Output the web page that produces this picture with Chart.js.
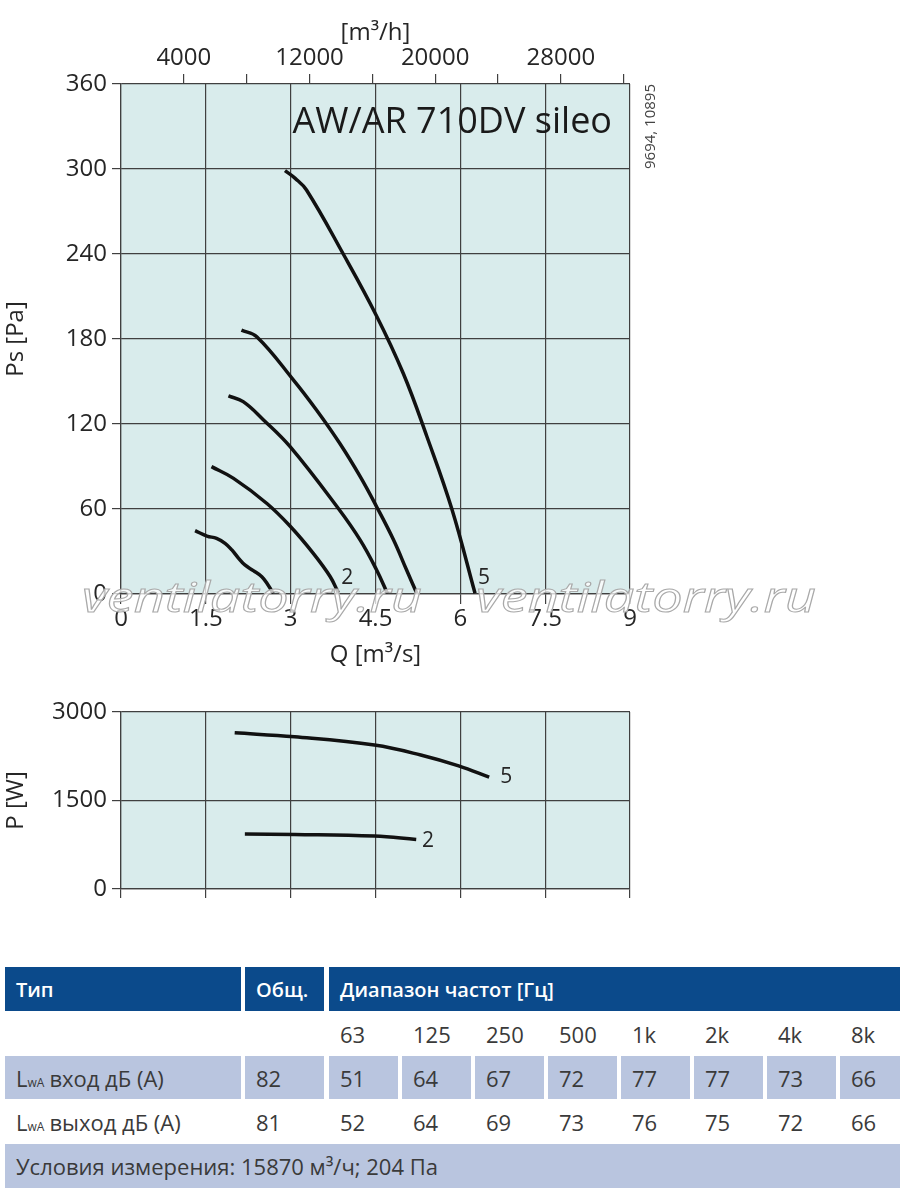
<!DOCTYPE html>
<html>
<head>
<meta charset="utf-8">
<script src="https://cdn.jsdelivr.net/npm/chart.js@4.4.1/dist/chart.umd.min.js"></script>
<style>
  body { margin: 0; width: 900px; height: 1194px; position: relative; background: #fff; overflow: hidden; font-family: "Open Sans", sans-serif; }
  #psChart { position: absolute; left: 0; top: 0; }
  #pChart { position: absolute; left: 0; top: 690px; }
  .cell { position: absolute; box-sizing: border-box; padding-left: 11px; display: flex; align-items: center; font-size: 22px; color: #3a3a3a; white-space: nowrap; }
  .head { background: #0b4a8b; color: #fff; font-weight: 600; font-size: 20px; }
  .shade { background: #b9c5df; }
  .sub { font-size: 12px; position: relative; top: 5px; margin-right: 5px; }
</style>
</head>
<body>
<canvas id="psChart" width="900" height="680"></canvas>
<canvas id="pChart" width="900" height="220"></canvas>
<div id="table"></div>
<script>
'use strict';

// pressure curves, Q [m3/s] vs Ps [Pa]
const curve1 = [[1.31, 44.7], [1.52, 40.9], [1.69, 39.3], [1.84, 35.8], [1.96, 31.1], [2.08, 25.2], [2.19, 20.5], [2.34, 16.5], [2.49, 12.2], [2.6, 6.4], [2.69, 0.5]]
const curve2 = [[1.6, 89.9], [1.99, 81.6], [2.58, 63.9], [3.0, 47.5], [3.4, 28.7], [3.7, 12.2], [3.84, 1]]
const curve3 = [[1.9, 139.8], [2.16, 135.8], [2.52, 122.9], [2.99, 104], [3.84, 60.5], [4.23, 38], [4.52, 16.9], [4.71, 0.5]]
const curve4 = [[2.13, 186.3], [2.4, 181.6], [3.05, 151], [3.46, 129.7], [3.87, 106.2], [4.23, 82.8], [4.52, 61.6], [4.82, 38.1], [5.05, 16.9], [5.23, 0.5]]
const curve5 = [[2.9, 298.8], [3.08, 293.4], [3.28, 285.2], [3.93, 240], [4.51, 197], [4.99, 155.8], [5.41, 111], [5.85, 60], [6.26, 0.5]]

// power curves, Q [m3/s] vs P [W]
const power2 = [[2.19, 932], [3.07, 925], [4.48, 897], [5.22, 841]]
const power5 = [[2.01, 2647], [3.07, 2579], [4.48, 2439], [5.3, 2271], [5.97, 2086], [6.51, 1895]]

const psLabels = [['2', 4.0, 11], ['5', 6.42, 11]]
const pLabels = [['5', 6.81, 1898], ['2', 5.43, 814]]

const topTicks = [4000, 8000, 12000, 16000, 20000, 24000, 28000, 32000]
const topLabels = [4000, 12000, 20000, 28000]

// sound table
const headTitles = ['Тип', 'Общ.', 'Диапазон частот [Гц]']
const bands = ['63', '125', '250', '500', '1k', '2k', '4k', '8k']
const inletTotal = 82
const inletBands = [51, 64, 67, 72, 77, 77, 73, 66]
const outletTotal = 81
const outletBands = [52, 64, 69, 73, 76, 75, 72, 66]
const conditions = 'Условия измерения: 15870 м³/ч; 204 Па'

const gridColor = '#404040'
const textColor = '#262626'
const tickFont = { family: '"Open Sans", sans-serif', size: 24 }

const toXY = (arr) => arr.map(p => ({ x: p[0], y: p[1] }))

const panelBg = {
    id: 'panelBg',
    beforeDraw(chart) {
        const { ctx, chartArea: a } = chart
        ctx.save()
        ctx.fillStyle = '#d9ecec'
        ctx.fillRect(a.left, a.top, a.right - a.left, a.bottom - a.top)
        ctx.restore()
    }
}

const curveLabels = {
    id: 'curveLabels',
    afterDatasetsDraw(chart, args, opts) {
        const { ctx, scales } = chart
        ctx.save()
        ctx.font = '21px "Open Sans", sans-serif'
        ctx.fillStyle = textColor
        ctx.textAlign = 'center'
        ctx.textBaseline = 'middle'
        for (const [txt, x, y] of opts.items || []) {
            ctx.fillText(txt, scales.x.getPixelForValue(x), scales.y.getPixelForValue(y))
        }
        ctx.restore()
    }
}

const extras = {
    id: 'extras',
    afterDraw(chart) {
        const { ctx, chartArea: a } = chart
        ctx.save()
        ctx.fillStyle = '#1a1a1a'
        ctx.font = '36px "Open Sans", sans-serif'
        ctx.textAlign = 'right'
        ctx.textBaseline = 'middle'
        ctx.fillText('AW/AR 710DV sileo', a.right - 18, 123)

        ctx.translate(651, a.top)
        ctx.rotate(-Math.PI / 2)
        ctx.font = '15px "Open Sans", sans-serif'
        ctx.fillStyle = '#444'
        ctx.textAlign = 'right'
        ctx.fillText('9694, 10895', 0, 0)
        ctx.restore()

        // watermark
        ctx.save()
        ctx.font = 'italic 42px "Open Sans", sans-serif'
        ctx.textBaseline = 'alphabetic'
        const txt = 'ventilatorry.ru'
        const w = ctx.measureText(txt).width
        for (const x0 of [82, 476]) {
            ctx.save()
            ctx.translate(x0, 612)
            ctx.scale(340 / w, 1)
            ctx.fillStyle = 'rgba(255,255,255,0.75)'
            ctx.fillText(txt, 0, 0)
            ctx.strokeStyle = '#a9a9a9'
            ctx.lineWidth = 1
            ctx.strokeText(txt, 0, 0)
            ctx.restore()
        }
        ctx.restore()
    }
}

const lineSet = (arr) => ({
    data: toXY(arr),
    borderColor: '#111',
    borderWidth: 3.5,
    pointRadius: 0,
    tension: 0.4,
    fill: false
})

new Chart(document.getElementById('psChart'), {
    type: 'line',
    data: { datasets: [curve1, curve2, curve3, curve4, curve5].map(lineSet) },
    options: {
        responsive: false,
        animation: false,
        layout: { padding: { left: 0, right: 270, top: 0, bottom: 0 } },
        plugins: { legend: { display: false }, tooltip: { enabled: false }, curveLabels: { items: psLabels } },
        scales: {
            x: {
                type: 'linear', position: 'bottom', min: 0, max: 9,
                ticks: { stepSize: 1.5, font: tickFont, color: textColor, padding: 1, maxRotation: 0 },
                grid: { color: gridColor, lineWidth: 1.2, tickLength: 10 },
                border: { color: gridColor, width: 1.2 },
                title: { display: true, text: 'Q [m³/s]', font: tickFont, color: textColor, padding: { bottom: 10 } },
                afterFit(s) { s.height = 86 }
            },
            xTop: {
                type: 'linear', position: 'top', min: 0, max: 32400,
                afterBuildTicks(s) { s.ticks = topTicks.map(v => ({ value: v })) },
                ticks: { font: tickFont, color: textColor, padding: 1, maxRotation: 0, autoSkip: false,
                    callback: (v) => topLabels.includes(v) ? String(v) : '' },
                grid: { color: gridColor, lineWidth: 1.2, tickLength: 10, drawOnChartArea: false },
                border: { display: false },
                title: { display: true, text: '[m³/h]', font: tickFont, color: textColor, padding: { top: 19 } },
                afterFit(s) { s.height = 84 }
            },
            y: {
                min: 0, max: 360,
                ticks: { stepSize: 60, font: tickFont, color: textColor, padding: 5 },
                grid: { color: gridColor, lineWidth: 1.2, tickLength: 9 },
                border: { color: gridColor, width: 1.2 },
                title: { display: true, text: 'Ps [Pa]', font: tickFont, color: textColor, padding: { top: 2 } },
                afterFit(s) { s.width = 121 }
            }
        }
    },
    plugins: [panelBg, curveLabels, extras]
})

new Chart(document.getElementById('pChart'), {
    type: 'line',
    data: { datasets: [power2, power5].map(lineSet) },
    options: {
        responsive: false,
        animation: false,
        layout: { padding: { left: 0, right: 270, top: 22, bottom: 0 } },
        plugins: { legend: { display: false }, tooltip: { enabled: false }, curveLabels: { items: pLabels } },
        scales: {
            x: {
                type: 'linear', position: 'bottom', min: 0, max: 9,
                ticks: { stepSize: 1.5, display: true, color: 'rgba(0,0,0,0)', font: { size: 1 }, padding: 0 },
                grid: { color: gridColor, lineWidth: 1.2, tickLength: 9 },
                border: { color: gridColor, width: 1.2 },
                afterFit(s) { s.height = 21 }
            },
            y: {
                min: 0, max: 3000,
                ticks: { stepSize: 1500, font: tickFont, color: textColor, padding: 5, callback: (v) => String(v) },
                grid: { color: gridColor, lineWidth: 1.2, tickLength: 9 },
                border: { color: gridColor, width: 1.2 },
                title: { display: true, text: 'P [W]', font: tickFont, color: textColor, padding: { top: 2 } },
                afterFit(s) { s.width = 121 }
            }
        }
    },
    plugins: [panelBg, curveLabels]
})

// table
const table = document.getElementById('table')
function cell(html, x, y, w, h, cls) {
    const d = document.createElement('div')
    d.className = 'cell ' + (cls || '')
    d.style.left = x + 'px'; d.style.top = y + 'px'
    d.style.width = w + 'px'; d.style.height = h + 'px'
    d.innerHTML = html
    table.appendChild(d)
}
const bandX = (i) => 329 + i * 73
const bandW = (i) => i === bands.length - 1 ? 900 - bandX(i) : 69

cell(headTitles[0], 5, 967, 236, 44, 'head')
cell(headTitles[1], 245, 967, 79, 44, 'head')
cell(headTitles[2], 329, 967, 571, 44, 'head')

bands.forEach((b, i) => cell(b, bandX(i), 1012, bandW(i), 43))

const lwa = 'L<span class="sub">wA</span>'
cell(lwa + 'вход дБ (А)', 5, 1056, 236, 43, 'shade')
cell(String(inletTotal), 245, 1056, 79, 43, 'shade')
inletBands.forEach((v, i) => cell(String(v), bandX(i), 1056, bandW(i), 43, 'shade'))

cell(lwa + 'выход дБ (А)', 5, 1100, 236, 43)
cell(String(outletTotal), 245, 1100, 79, 43)
outletBands.forEach((v, i) => cell(String(v), bandX(i), 1100, bandW(i), 43))

cell(conditions, 5, 1144, 895, 44, 'shade')
</script>
</body>
</html>
